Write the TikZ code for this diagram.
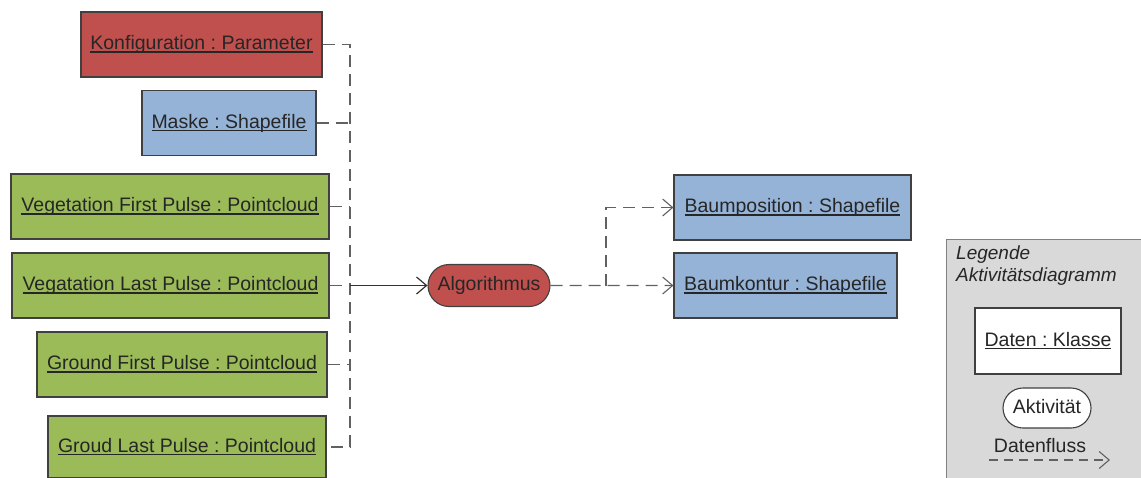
\documentclass[tikz,border=0pt]{standalone}
\usepackage{fontspec}
\setmainfont{Liberation Sans}
\usepackage{tikz}
\usetikzlibrary{shapes,arrows.meta,positioning}
\definecolor{rot}{HTML}{C0504D}
\definecolor{blau}{HTML}{95B3D7}
\definecolor{gruen}{HTML}{9BBB59}
\definecolor{rand}{HTML}{404040}
\definecolor{grau}{HTML}{D9D9D9}
\tikzstyle{obj} = [draw=rand,line width=1.1pt,rectangle,inner sep=0,minimum height=65pt,text height=14pt,text depth=4pt,font=\fontsize{19.5}{22}\selectfont,text=black!85]
\tikzstyle{act} = [draw=rand,line width=1.1pt,rounded rectangle,inner sep=0,minimum height=42pt,text height=14pt,text depth=4pt,font=\fontsize{19.5}{22}\selectfont,text=black!85]
\tikzstyle{flow} = [draw=black!62,line width=1.1pt,dash pattern=on 12pt off 7pt]
\tikzstyle{pfeil} = [-{Straight Barb[length=10pt,width=17pt]}]
\newcommand{\objname}[1]{\setbox0=\hbox{#1}\rlap{\rule[-3pt]{\wd0}{1.2pt}}\box0}
\frenchspacing

\begin{document}
\begin{tikzpicture}[x=1pt,y=-1pt]
  \useasboundingbox (0,0) rectangle (1141,477);
  % inputs
  \node[obj,fill=rot,minimum width=241pt] (konf) at (201.5,44.5) {\objname{Konfiguration : Parameter}};
  \node[obj,fill=blau,minimum width=174pt] (maske) at (229,123) {\objname{Maske : Shapefile}};
  \node[obj,fill=gruen,minimum width=318pt] (vegfirst) at (170,206.5) {\objname{Vegetation First Pulse : Pointcloud}};
  \node[obj,fill=gruen,minimum width=317pt] (veglast) at (170.5,285.5) {\objname{Vegatation Last Pulse : Pointcloud}};
  \node[obj,fill=gruen,minimum width=290pt] (grdfirst) at (182,364.5) {\objname{Ground First Pulse : Pointcloud}};
  \node[obj,fill=gruen,minimum width=278pt,minimum height=62pt] (grdlast) at (187,447) {\objname{Groud Last Pulse : Pointcloud}};
  % activity and outputs
  \node[act,fill=rot,minimum width=122pt] (algo) at (489,285.5) {Algorithmus};
  \node[obj,fill=blau,minimum width=237pt] (bpos) at (792.5,207.5) {\objname{Baumposition : Shapefile}};
  \node[obj,fill=blau,minimum width=223pt] (bkont) at (785.5,285.5) {\objname{Baumkontur : Shapefile}};
  \coordinate (bus) at (350,285.5);
  \coordinate (split) at (606,285.5);
  \draw[flow] (konf.east) -- (konf.east -| bus) -- (grdlast.east -| bus) -- (grdlast.east);
  \foreach \n in {maske,vegfirst,veglast,grdfirst}
    \draw[flow] (\n.east) -- (\n.east -| bus);
  \draw[line width=1.2pt,draw=black!80,pfeil] (bus) -- (algo);
  \draw[flow,pfeil] (algo) -- (bkont);
  \draw[flow,pfeil] (split) |- (bpos);
  % legend
  \draw[draw=black!50,line width=1pt,fill=grau] (946,239) rectangle (1160,490);
  \node[anchor=north west,align=left,inner sep=0,font=\fontsize{19}{22}\selectfont\itshape,text=black!85] (leg) at (956,246) {Legende\\Aktivitätsdiagramm};
  \node[obj,fill=white,minimum width=146pt,minimum height=66pt] (dk) at (1048,341) {\objname{Daten : Klasse}};
  \node[act,fill=white,minimum width=88pt,minimum height=40pt] (akt) at (1047,408) {Aktivität};
  \node[inner sep=0,font=\fontsize{19.5}{22}\selectfont,text=black!85] (df) at (1040,446) {Datenfluss};
  \coordinate (fa) at (989,460);
  \coordinate (fb) at (1110,460);
  \draw[flow,dash pattern=on 9pt off 6pt,pfeil] (fa) -- (fb);
\end{tikzpicture}
\end{document}
